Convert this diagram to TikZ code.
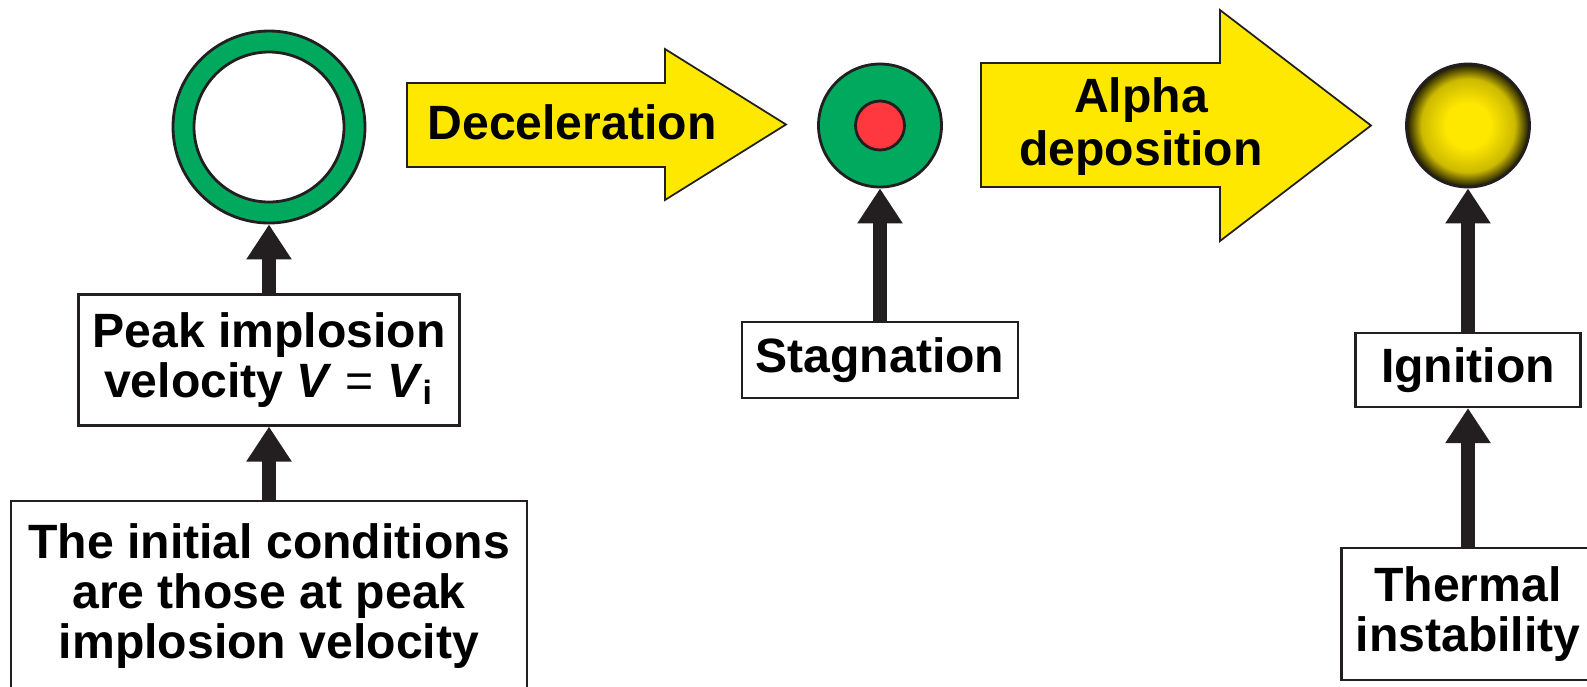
\documentclass[tikz,border=0pt]{standalone}
\usepackage{fontspec}
\setmainfont{Liberation Sans}
\usetikzlibrary{arrows.meta}

\definecolor{ringgreen}{RGB}{0,169,94}
\definecolor{corered}{RGB}{255,56,64}
\definecolor{flowyellow}{RGB}{255,232,0}
\definecolor{tipblack}{RGB}{35,31,32}

\pgfdeclareradialshading{hotball}{\pgfpoint{0bp}{0bp}}{color(0bp)=(flowyellow); color(9bp)=(flowyellow); color(19bp)=(flowyellow!80!black); color(25bp)=(flowyellow!10!black); color(50bp)=(flowyellow!10!black)}

\tikzset{
  txtbox/.style={draw=tipblack, line width=0.6pt, fill=white, align=center, inner sep=0pt},
  push/.style={draw=tipblack, line width=0.14cm, -{Triangle[width=0.43cm,length=0.35cm]}},
  flow/.style={draw=tipblack, line width=0.5pt, fill=flowyellow, line join=miter},
  shell/.style={circle, draw=tipblack, line width=0.8pt, inner sep=0pt}
}

\begin{document}
\begin{tikzpicture}[font=\fontsize{13.7}{14.1}\selectfont\bfseries]
\useasboundingbox (0,0) rectangle (15.87,-6.86);
% capsule states
\node[shell, fill=ringgreen, minimum size=1.92cm] (ring) at (2.69,-1.27) {};
\node[shell, fill=white, minimum size=1.50cm] (ringhole) at (ring) {};
\node[shell, fill=ringgreen, minimum size=1.23cm] (core) at (8.80,-1.255) {};
\node[shell, fill=corered, minimum size=0.49cm] (hotspot) at (core) {};
\node[shell, shade, shading=hotball, minimum size=1.23cm] (ball) at (14.68,-1.255) {};
% block arrows
\draw[flow] (4.07,-0.83) -- (6.65,-0.83) -- (6.65,-0.49) -- (7.86,-1.245) -- (6.65,-2.00) -- (6.65,-1.67) -- (4.07,-1.67) -- cycle;
\node (decel) at (5.72,-1.22) {Deceleration};
\draw[flow] (9.81,-0.63) -- (12.20,-0.63) -- (12.20,-0.10) -- (13.71,-1.255) -- (12.20,-2.41) -- (12.20,-1.87) -- (9.81,-1.87) -- cycle;
\node[align=center, font=\fontsize{13.7}{15.1}\selectfont\bfseries] (alpha) at (11.41,-1.27) {Alpha\\deposition};
% labels
\node[txtbox, minimum width=3.81cm, minimum height=1.31cm] (peak) at (2.69,-3.60) {Peak implosion\\velocity \textit{V} {\mdseries =} \textit{V}\textsubscript{i}};
\node[txtbox, anchor=north, inner xsep=0.17cm, inner ysep=0.23cm] (initial) at (2.69,-5.00) {The initial conditions\\are those at peak\\implosion velocity};
\node[txtbox, minimum width=2.76cm, minimum height=0.76cm] (stagbox) at (8.80,-3.60) {Stagnation};
\node[txtbox, minimum width=2.25cm, minimum height=0.74cm] (ignbox) at (14.68,-3.70) {Ignition};
\node[txtbox, minimum width=2.53cm, minimum height=1.325cm] (thermal) at (14.68,-6.14) {Thermal\\instability};
% pushes
\draw[push] (peak.north) -- (ring.south);
\draw[push] (initial.north) -- (peak.south);
\draw[push] (stagbox.north) -- (core.south);
\draw[push] (ignbox.north) -- (ball.south);
\draw[push] (thermal.north) -- (ignbox.south);
\end{tikzpicture}
\end{document}
